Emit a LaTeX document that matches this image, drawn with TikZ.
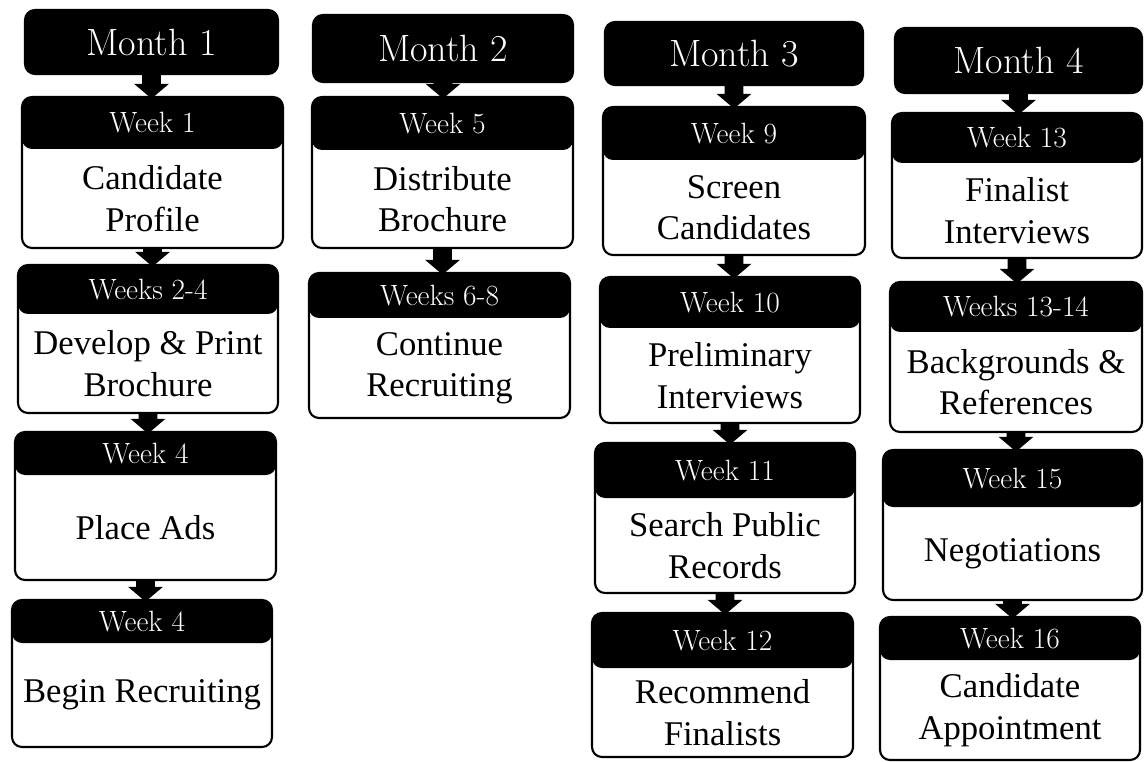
\documentclass[tikz,border=0pt]{standalone}
\usepackage{fontspec}
\newfontfamily\bodyfont{Liberation Serif}
\usetikzlibrary{calc}
\tikzset{
  wbox/.style={draw=black, line width=1.6pt, rounded corners=7.5pt, fill=white, inner sep=0pt},
  mbox/.style={draw=black, fill=black, line width=1.6pt, rounded corners=7.5pt, inner sep=0pt},
  monthtext/.style={text=white, font=\fontsize{28.5}{34}\selectfont, inner sep=0pt},
  hdrtext/.style={text=white, font=\fontsize{22}{27}\selectfont, inner sep=0pt},
  bodytext/.style={text=black, align=center, font=\bodyfont\fontsize{26}{31}\selectfont, inner sep=0pt}
}
\newcommand\monthbox[6]{% name, x1, y1, x2, y2, text
  \node[mbox, minimum width={(#4-#2)*0.75pt}, minimum height={(#5-#3)*0.75pt}] (#1) at ({(#2+#4)/2},{(#3+#5)/2}) {};
  \node[monthtext] (#1t) at (#1.center) {#6};
}
\newcommand\weekbox[8]{% name, x1, y1, x2, y2, header bottom, header, body
  \pgfmathsetmacro\hdrh{(#6-#3)*0.75}
  \node[wbox, minimum width={(#4-#2)*0.75pt}, minimum height={(#5-#3)*0.75pt},
        path picture={\fill[black] (path picture bounding box.north west) rectangle ([yshift=-\hdrh pt]path picture bounding box.north east);}]
        (#1) at ({(#2+#4)/2},{(#3+#5)/2}) {};
  \node[hdrtext] (#1h) at ({(#2+#4)/2},{(#3+#6)/2}) {#7};
  \node[bodytext] (#1b) at ({(#2+#4)/2},{(#6+#5)/2}) {#8};
}
\newcommand\barrow[2]{%
  \fill[black] let \p1=(#1.south), \p2=(#2.north) in
    (\x1-7pt,\y1+1pt) -- (\x1+7pt,\y1+1pt) -- (\x1+7pt,\y2+9pt) -- (\x1+13pt,\y2+9pt)
    -- (\x1,\y2-2pt) -- (\x1-13pt,\y2+9pt) -- (\x1-7pt,\y2+9pt) -- cycle;
}
\begin{document}
\begin{tikzpicture}[x=0.75pt, y=-0.75pt]
\useasboundingbox (0,0) rectangle (1144,762);
% Column 1
\monthbox{m1}{25}{10}{278}{74}{Month 1}
\weekbox{w1}{22}{97}{283}{248}{149}{Week 1}{Candidate\\Profile}
\weekbox{w2}{18}{265}{278}{413}{314}{Weeks 2-4}{Develop \& Print\\Brochure}
\weekbox{w3}{15}{432}{276}{580}{475}{Week 4}{Place Ads}
\weekbox{w4}{12}{600}{272}{747}{643}{Week 4}{Begin Recruiting}
% Column 2
\monthbox{m2}{313}{15}{573}{82}{Month 2}
\weekbox{w5}{312}{97}{573}{248}{150}{Week 5}{Distribute\\Brochure}
\weekbox{w6}{309}{273}{570}{418}{318}{Weeks 6-8}{Continue\\Recruiting}
% Column 3
\monthbox{m3}{605}{22}{863}{85}{Month 3}
\weekbox{w9}{603}{107}{865}{255}{160}{Week 9}{Screen\\Candidates}
\weekbox{w10}{600}{277}{860}{423}{328}{Week 10}{Preliminary\\Interviews}
\weekbox{w11}{595}{443}{855}{593}{498}{Week 11}{Search Public\\Records}
\weekbox{w12}{592}{613}{853}{757}{668}{Week 12}{Recommend\\Finalists}
% Column 4
\monthbox{m4}{895}{28}{1142}{93}{Month 4}
\weekbox{w13}{892}{113}{1142}{258}{163}{Week 13}{Finalist\\Interviews}
\weekbox{w14}{890}{282}{1142}{432}{332}{Weeks 13-14}{Backgrounds \&\\References}
\weekbox{w15}{883}{450}{1142}{600}{507}{Week 15}{Negotiations}
\weekbox{w16}{880}{617}{1140}{760}{660}{Week 16}{Candidate\\Appointment}
% Arrows
\barrow{m1}{w1}\barrow{w1}{w2}\barrow{w2}{w3}\barrow{w3}{w4}
\barrow{m2}{w5}\barrow{w5}{w6}
\barrow{m3}{w9}\barrow{w9}{w10}\barrow{w10}{w11}\barrow{w11}{w12}
\barrow{m4}{w13}\barrow{w13}{w14}\barrow{w14}{w15}\barrow{w15}{w16}
\end{tikzpicture}
\end{document}
